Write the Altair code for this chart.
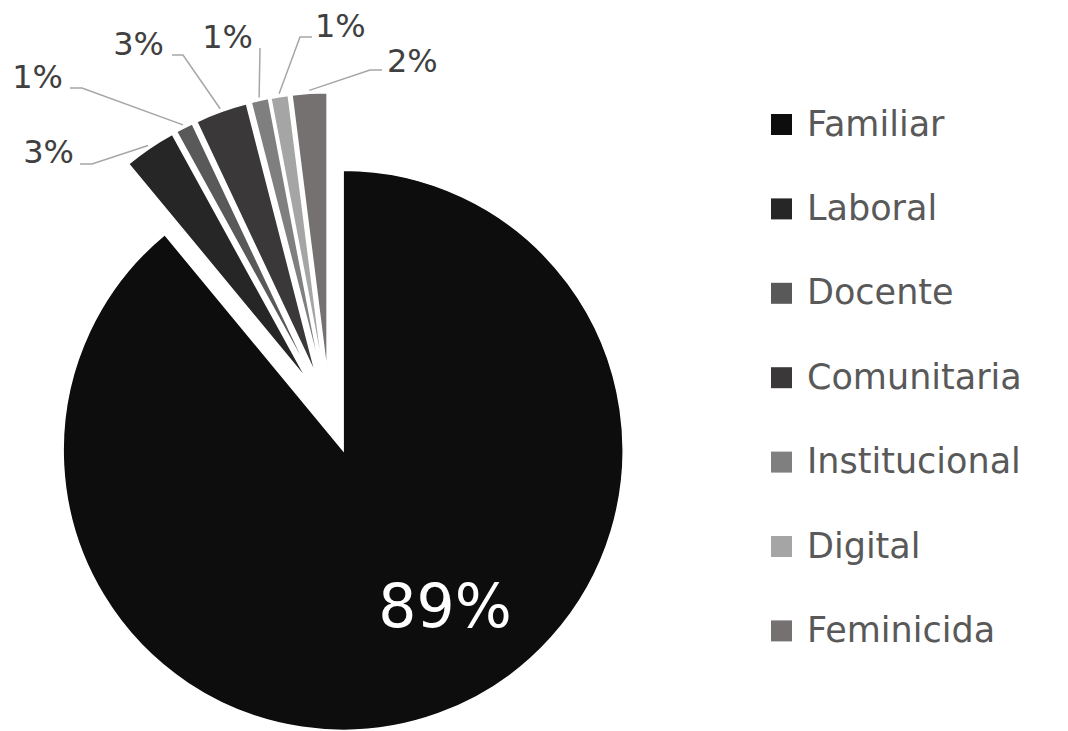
import math
import pandas as pd
import altair as alt

# ---- data -------------------------------------------------------------
categories = ["Familiar", "Laboral", "Docente", "Comunitaria",
              "Institucional", "Digital", "Feminicida"]
values = [89, 3, 1, 3, 1, 1, 2]
colors = ["#0d0d0d", "#262626", "#595959", "#3a3838",
          "#7f7f7f", "#a5a5a5", "#767171"]

# ---- layout (chart pixel coordinates) --------------------------------
CENTER_X, CENTER_Y = 321.6, 404.7
RADIUS = 280
EXPLODE = 40

# label anchors (text edge x, baseline y), side of the leader line
label_x = [437, 66, 55, 156, 245, 307, 379]
label_y = [619, 155, 80, 47, 40, 29, 64]
label_side = ["inside", "right", "right", "right", "right", "left", "left"]
line_start_x = [None, 72, 62, 164, 252, 304, 374]
line_start_y = [None, 156, 80, 47, 40, 29, 62]
line_elbow_x = [None, 84, 74, 175, 252, 292, 362]

# ---- derived geometry -------------------------------------------------
total = sum(values)
rows, line_rows = [], []
acc = 0.0
for i, (c, v) in enumerate(zip(categories, values)):
    t0 = acc / total * 2 * math.pi
    acc += v
    t1 = acc / total * 2 * math.pi
    mid = (t0 + t1) / 2
    cx = CENTER_X + EXPLODE * math.sin(mid)
    cy = CENTER_Y - EXPLODE * math.cos(mid)
    rows.append(dict(category=c, value=v, order=i, t0=t0, t1=t1, cx=cx, cy=cy,
                     label=f"{v}%", lx=label_x[i], ly=label_y[i],
                     side=label_side[i]))
    if line_start_x[i] is not None:
        ex = cx + (RADIUS + 3) * math.sin(mid)
        ey = cy - (RADIUS + 3) * math.cos(mid)
        pts = [(line_start_x[i], line_start_y[i]),
               (line_elbow_x[i], line_start_y[i]),
               (ex, ey)]
        for k, (px, py) in enumerate(pts):
            line_rows.append(dict(category=c, seq=k, px=px, py=py))

df = pd.DataFrame(rows)
lines_df = pd.DataFrame(line_rows)

FONT = "DejaVu Sans"

arcs = alt.Chart(df).mark_arc(radius=RADIUS, stroke="white", strokeWidth=1.5).encode(
    theta=alt.Theta("t0:Q", scale=None),
    theta2="t1:Q",
    x=alt.X("cx:Q", scale=None),
    y=alt.Y("cy:Q", scale=None),
    color=alt.Color(
        "category:N",
        scale=alt.Scale(domain=categories, range=colors),
        sort=categories,
        legend=alt.Legend(
            title=None, orient="none", legendX=756, legendY=99,
            symbolType="square", symbolSize=441, symbolStrokeWidth=0,
            symbolOpacity=1, labelFont=FONT, labelFontSize=35,
            labelColor="#595959", labelOffset=8, rowPadding=48.4,
            labelLimit=0, padding=0,
        ),
    ),
)

leaders = alt.Chart(lines_df).mark_line(color="#a6a6a6", strokeWidth=1.5).encode(
    x=alt.X("px:Q", scale=None),
    y=alt.Y("py:Q", scale=None),
    detail="category:N",
    order="seq:Q",
)

base_text = alt.Chart(df)
text_right = base_text.transform_filter(alt.datum.side == "right").mark_text(
    font=FONT, fontSize=32, color="#404040", align="right", baseline="alphabetic"
).encode(x=alt.X("lx:Q", scale=None), y=alt.Y("ly:Q", scale=None), text="label:N")

text_left = base_text.transform_filter(alt.datum.side == "left").mark_text(
    font=FONT, fontSize=32, color="#404040", align="left", baseline="alphabetic"
).encode(x=alt.X("lx:Q", scale=None), y=alt.Y("ly:Q", scale=None), text="label:N")

text_inside = base_text.transform_filter(alt.datum.side == "inside").mark_text(
    font=FONT, fontSize=60, color="white", align="center", baseline="alphabetic"
).encode(x=alt.X("lx:Q", scale=None), y=alt.Y("ly:Q", scale=None), text="label:N")

chart = alt.layer(arcs, leaders, text_right, text_left, text_inside).properties(
    width=1052, height=723, autosize="none", padding=0
).configure_view(stroke=None)

chart.save("out.html", embed_options={"renderer": "svg", "actions": False})
